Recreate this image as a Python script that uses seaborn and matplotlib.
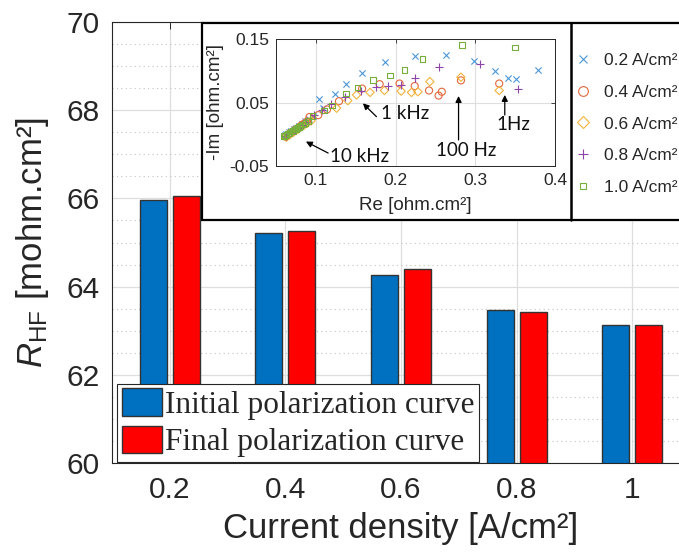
import matplotlib
matplotlib.use("Agg")
import matplotlib.pyplot as plt
import seaborn as sns
import pandas as pd
from matplotlib.lines import Line2D
from matplotlib.patches import Rectangle
from matplotlib.ticker import MultipleLocator, FixedLocator

# ---- high-frequency resistance per current density ----
current_density = ["0.2", "0.4", "0.6", "0.8", "1"]
r_hf_initial = [65.96, 65.21, 64.27, 63.47, 63.14]
r_hf_final = [66.05, 65.27, 64.41, 63.42, 63.12]
curve_names = ["Initial polarization curve", "Final polarization curve"]
bar_colors = ["#0070C0", "#FF0000"]

# ---- impedance spectra (Re, -Im) in ohm.cm² ----
spectra_labels = ["0.2 A/cm²", "0.4 A/cm²", "0.6 A/cm²", "0.8 A/cm²", "1.0 A/cm²"]

re_02 = [0.061, 0.063, 0.066, 0.069, 0.072, 0.075, 0.079, 0.083, 0.087, 0.092, 0.097,
         0.104, 0.109, 0.124, 0.138, 0.158, 0.187, 0.224, 0.263, 0.299, 0.325, 0.341, 0.351, 0.379]
im_02 = [-0.002, 0.000, 0.003, 0.005, 0.008, 0.010, 0.013, 0.016, 0.020, 0.024, 0.028,
         0.055, 0.042, 0.063, 0.080, 0.097, 0.1135, 0.123, 0.125, 0.115, 0.100, 0.089, 0.087, 0.101]

re_04 = [0.062, 0.065, 0.068, 0.071, 0.074, 0.077, 0.080, 0.083, 0.086, 0.089,
         0.092, 0.103, 0.114, 0.129, 0.158, 0.180, 0.205, 0.224, 0.242, 0.254, 0.258, 0.282, 0.330]
im_04 = [-0.004, -0.001, 0.002, 0.004, 0.007, 0.009, 0.012, 0.015, 0.017, 0.020,
         0.027, 0.030, 0.039, 0.052, 0.072, 0.079, 0.080, 0.076, 0.069, 0.061, 0.067, 0.085, 0.080]

re_06 = [0.063, 0.066, 0.069, 0.072, 0.075, 0.078, 0.081, 0.085, 0.089, 0.094,
         0.126, 0.140, 0.151, 0.168, 0.186, 0.207, 0.220, 0.228, 0.243, 0.282, 0.330]
im_06 = [-0.005, -0.002, 0.001, 0.003, 0.006, 0.008, 0.011, 0.014, 0.017, 0.021,
         0.041, 0.053, 0.062, 0.066, 0.069, 0.068, 0.066, 0.067, 0.083, 0.090, 0.069]

re_08 = [0.062, 0.066, 0.070, 0.074, 0.078, 0.082, 0.088, 0.098, 0.108,
         0.119, 0.137, 0.157, 0.175, 0.191, 0.207, 0.224, 0.255, 0.306, 0.354]
im_08 = [-0.003, 0.000, 0.004, 0.007, 0.010, 0.014, 0.0196, 0.031, 0.038,
         0.048, 0.058, 0.068, 0.074, 0.076, 0.077, 0.089, 0.106, 0.111, 0.072]

re_10 = [0.060, 0.0615, 0.063, 0.065, 0.067, 0.069, 0.071, 0.073, 0.075, 0.077, 0.079,
         0.081, 0.084, 0.087, 0.090, 0.096, 0.110, 0.120, 0.138, 0.152, 0.172, 0.193,
         0.211, 0.234, 0.283, 0.350]
im_10 = [-0.003, -0.002, -0.001, 0.001, 0.002, 0.004, 0.005, 0.007, 0.008, 0.010, 0.011,
         0.013, 0.015, 0.018, 0.021, 0.029, 0.037, 0.045, 0.064, 0.074, 0.086, 0.093,
         0.101, 0.119, 0.141, 0.137]

spectra_colors = ["#4C96D7", "#E2683C", "#F2B33D", "#8E44A8", "#78AE3C"]

# ---- fonts ----
sns.set_style("white")
plt.rcParams["font.family"] = ["Liberation Sans", "DejaVu Sans"]
plt.rcParams["mathtext.fontset"] = "custom"
plt.rcParams["mathtext.rm"] = "Liberation Sans"
plt.rcParams["mathtext.it"] = "Liberation Sans:italic"
plt.rcParams["axes.unicode_minus"] = False

W, H = 679, 556
fig = plt.figure(figsize=(W / 100, H / 100), dpi=100)
fig.patch.set_facecolor("white")

# ---- main bar chart ----
ax = fig.add_axes([112 / W, 93 / H, 578 / W, 441 / H])
df = pd.DataFrame({
    "density": current_density * 2,
    "rhf": r_hf_initial + r_hf_final,
    "curve": [curve_names[0]] * len(current_density) + [curve_names[1]] * len(current_density),
})
sns.barplot(data=df, x="density", y="rhf", hue="curve", palette=bar_colors, saturation=1,
            width=0.572, gap=0.185, edgecolor="#333333", linewidth=1.0, ax=ax)

ax.set_xlim(-0.5, 4.5)
ax.set_ylim(60, 70)
ax.yaxis.set_major_locator(MultipleLocator(2))
ax.yaxis.set_minor_locator(MultipleLocator(0.5))
ax.set_axisbelow(True)
ax.grid(which="major", color="#dedede", lw=0.9)
ax.grid(which="minor", axis="y", color="#c4c4c4", lw=0.8, ls=(0, (1, 3)))
for s in ax.spines.values():
    s.set_color("#262626")
    s.set_linewidth(0.8)
ax.tick_params(axis="both", which="major", direction="in", length=5, width=0.7,
               labelsize=21.5, labelcolor="#262626", color="#262626", top=True, right=True, pad=9)
ax.tick_params(axis="y", which="minor", length=0)

ax.set_xlabel("Current density [A/cm²]", fontsize=25, color="#262626")
ax.set_ylabel(r"$R_{\mathrm{HF}}$ [mohm.cm²]", fontsize=25, color="#262626")
ax.xaxis.set_label_coords(0.5, -0.110)
ax.yaxis.set_label_coords(-0.105, 0.5)

handles, labels = ax.get_legend_handles_labels()
leg = ax.legend(handles, labels, loc="lower left", bbox_to_anchor=(5 / 578, 1 / 441),
                borderaxespad=0, prop={"family": "Liberation Serif", "size": 22.5},
                handlelength=1.28, handleheight=0.96, handletextpad=0.1,
                labelspacing=0.2, borderpad=0.15, frameon=True, fancybox=False,
                edgecolor="#262626", framealpha=1)
leg.get_frame().set_linewidth(0.8)

# ---- inset panel frame ----
fig.patches.append(Rectangle((202 / W, (H - 220) / H), (730 - 202) / W, 197 / H,
                             transform=fig.transFigure, facecolor="white",
                             edgecolor="black", lw=1.6, zorder=1))
fig.lines.append(Line2D([571 / W, 571 / W], [(H - 220) / H, (H - 23) / H],
                        transform=fig.transFigure, color="black", lw=1.8, zorder=1.5))

# ---- inset Nyquist plot ----
axin = fig.add_axes([276 / W, (H - 165.7) / H, 279 / W, 126.4 / H], zorder=2)
series = [
    (re_02, im_02, "x", 20, None),
    (re_04, im_04, "o", 26, "none"),
    (re_06, im_06, "D", 18, "none"),
    (re_08, im_08, "+", 34, None),
    (re_10, im_10, "s", 16, "none"),
]
for (re, im, mk, sz, fc), col in zip(series, spectra_colors):
    if fc is None:
        axin.scatter(re, im, marker=mk, s=sz, color=col, linewidths=0.8)
    else:
        axin.scatter(re, im, marker=mk, s=sz, facecolors="none", edgecolors=col, linewidths=0.8)

axin.set_xlim(0.05, 0.4)
axin.set_ylim(-0.05, 0.15)
axin.xaxis.set_major_locator(FixedLocator([0.1, 0.2, 0.3, 0.4]))
axin.yaxis.set_major_locator(FixedLocator([-0.05, 0.05, 0.15]))
axin.set_xticklabels(["0.1", "0.2", "0.3", "0.4"])
axin.set_yticklabels(["-0.05", "0.05", "0.15"])
axin.grid(True, color="#dedede", lw=0.8)
axin.set_axisbelow(True)
for s in axin.spines.values():
    s.set_color("#262626")
    s.set_linewidth(0.7)
axin.tick_params(direction="in", length=3, width=0.6, labelsize=12.5,
                 labelcolor="#262626", color="#262626", top=True, right=True, pad=5)
axin.set_xlabel("Re [ohm.cm²]", fontsize=13.5, color="#262626")
axin.set_ylabel("-Im [ohm.cm²]", fontsize=13.5, color="#262626")
axin.xaxis.set_label_coords(0.5, -0.245)
axin.yaxis.set_label_coords(-0.185, 0.5)

arrow = dict(arrowstyle="-|>", color="black", lw=0.9, mutation_scale=9, shrinkA=0, shrinkB=0)
ann_font = dict(fontsize=13.5, family=["Lato", "DejaVu Sans"], color="#111111")
axin.annotate("", xy=(0.159, 0.0487), xytext=(0.176, 0.0276), arrowprops=arrow)
axin.text(0.182, 0.032, "1 kHz", ha="left", va="center", **ann_font)
axin.annotate("", xy=(0.0875, -0.0118), xytext=(0.1154, -0.030), arrowprops=arrow)
axin.text(0.1175, -0.0357, "10 kHz", ha="left", va="center", **ann_font)
axin.annotate("", xy=(0.279, 0.0603), xytext=(0.279, -0.0093), arrowprops=arrow)
axin.text(0.288, -0.026, "100 Hz", ha="center", va="center", **ann_font)
axin.annotate("", xy=(0.337, 0.062), xytext=(0.337, 0.0302), arrowprops=arrow)
axin.text(0.3475, 0.0144, "1Hz", ha="center", va="center", **ann_font)

# ---- inset legend (kept inside the canvas width) ----
leg_handles = [
    Line2D([], [], ls="none", marker="x", ms=5.5, mew=0.8, color=spectra_colors[0]),
    Line2D([], [], ls="none", marker="o", ms=7, mew=0.8, mfc="none", color=spectra_colors[1]),
    Line2D([], [], ls="none", marker="D", ms=6, mew=0.8, mfc="none", color=spectra_colors[2]),
    Line2D([], [], ls="none", marker="+", ms=7, mew=0.8, color=spectra_colors[3]),
    Line2D([], [], ls="none", marker="s", ms=5, mew=0.8, mfc="none", color=spectra_colors[4]),
]
fig.legend(leg_handles, spectra_labels, loc="center left",
           bbox_to_anchor=(574 / W, 1 - 124 / H), frameon=False, fontsize=12.5,
           handlelength=1.0, handletextpad=0.7, labelspacing=0.95,
           borderpad=0, borderaxespad=0, labelcolor="#262626")

fig.savefig("out.png", dpi=100)
